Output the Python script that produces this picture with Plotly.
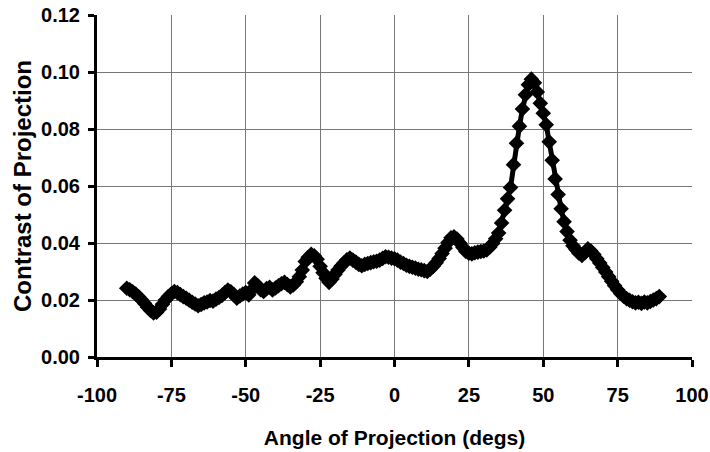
import plotly.graph_objects as go

# Angles of projection (degrees)
angles = list(range(-90, 90))

# Contrast of projection (one value per degree)
contrast = [
    0.0241, 0.0236, 0.0229, 0.0221, 0.0211, 0.0200, 0.0188, 0.0175, 0.0163, 0.0155,
    0.0157, 0.0168, 0.0185, 0.0200, 0.0212, 0.0222, 0.0230, 0.0226, 0.0219, 0.0212,
    0.0206, 0.0199, 0.0192, 0.0186, 0.0180, 0.0184, 0.0190, 0.0193, 0.0198, 0.0196,
    0.0203, 0.0209, 0.0216, 0.0226, 0.0235, 0.0229, 0.0219, 0.0206, 0.0214, 0.0221,
    0.0226, 0.0218, 0.0236, 0.0260, 0.0251, 0.0236, 0.0230, 0.0240, 0.0245, 0.0235,
    0.0242, 0.0250, 0.0257, 0.0262, 0.0254, 0.0246, 0.0253, 0.0264, 0.0282, 0.0305,
    0.0335, 0.0350, 0.0360, 0.0355, 0.0343, 0.0318, 0.0296, 0.0276, 0.0262, 0.0274,
    0.0290, 0.0305, 0.0318, 0.0330, 0.0341, 0.0347, 0.0340, 0.0333, 0.0325, 0.0320,
    0.0325, 0.0328, 0.0331, 0.0334, 0.0336, 0.0340, 0.0346, 0.0352, 0.0350, 0.0347,
    0.0345, 0.0340, 0.0333, 0.0328, 0.0322, 0.0318, 0.0315, 0.0312, 0.0308, 0.0306,
    0.0303, 0.0300, 0.0308, 0.0318, 0.0331, 0.0346, 0.0363, 0.0382, 0.0402, 0.0418,
    0.0422, 0.0414, 0.0399, 0.0384, 0.0370, 0.0364, 0.0362, 0.0366, 0.0368, 0.0370,
    0.0372, 0.0376, 0.0385, 0.0398, 0.0415, 0.0435, 0.0470, 0.0515, 0.0555, 0.0595,
    0.0675, 0.0750, 0.0810, 0.0870, 0.0920, 0.0955, 0.0975, 0.0962, 0.0930, 0.0890,
    0.0855, 0.0815, 0.0755, 0.0690, 0.0625, 0.0570, 0.0520, 0.0475, 0.0440, 0.0410,
    0.0390, 0.0377, 0.0364, 0.0356, 0.0366, 0.0380, 0.0372, 0.0360, 0.0345, 0.0330,
    0.0314, 0.0298, 0.0282, 0.0266, 0.0250, 0.0236, 0.0223, 0.0213, 0.0205, 0.0199,
    0.0194, 0.0190, 0.0192, 0.0188, 0.0193, 0.0190, 0.0195, 0.0200, 0.0205, 0.0212,
]

x_ticks = [-100, -75, -50, -25, 0, 25, 50, 75, 100]
y_ticks = [0.00, 0.02, 0.04, 0.06, 0.08, 0.10, 0.12]

FONT = "Liberation Sans, Arial, sans-serif"

fig = go.Figure()
fig.add_trace(go.Scatter(
    x=angles, y=contrast, mode="lines+markers",
    line=dict(color="black", width=5),
    marker=dict(symbol="diamond", size=12, color="black"),
    showlegend=False,
))

fig.update_layout(
    width=710, height=452,
    margin=dict(l=97, r=18, t=15, b=95, autoexpand=False),
    paper_bgcolor="white", plot_bgcolor="white",
    font=dict(family=FONT, color="black"),
    xaxis=dict(
        range=[-100, 100], tickvals=x_ticks, ticktext=[str(v) for v in x_ticks],
        automargin=False,
        showgrid=True, gridcolor="#777777", gridwidth=1.2,
        showline=True, linecolor="black", linewidth=3,
        ticks="outside", ticklen=7, tickwidth=3, tickcolor="black",
        tickfont=dict(family=FONT, size=20, color="black", weight="bold"),
        ticklabelstandoff=11,
        zeroline=False,
        title=dict(text="Angle of Projection (degs)",
                   font=dict(family=FONT, size=21, color="black", weight="bold"),
                   standoff=26),
    ),
    yaxis=dict(
        range=[0, 0.12], tickvals=y_ticks, ticktext=[f"{v:.2f}" for v in y_ticks],
        automargin=False,
        showgrid=True, gridcolor="#777777", gridwidth=1.2,
        showline=True, linecolor="black", linewidth=3,
        ticks="outside", ticklen=6, tickwidth=3, tickcolor="black",
        tickfont=dict(family=FONT, size=20, color="black", weight="bold"),
        ticklabelstandoff=4,
        zeroline=False,
        title=dict(text="Contrast of Projection",
                   font=dict(family=FONT, size=24, color="black", weight="bold"),
                   standoff=3),
    ),
)

fig.write_html(
    "out.html",
    config={"displayModeBar": False},
    post_script="document.body.style.margin='0';document.body.style.overflow='hidden';",
)
